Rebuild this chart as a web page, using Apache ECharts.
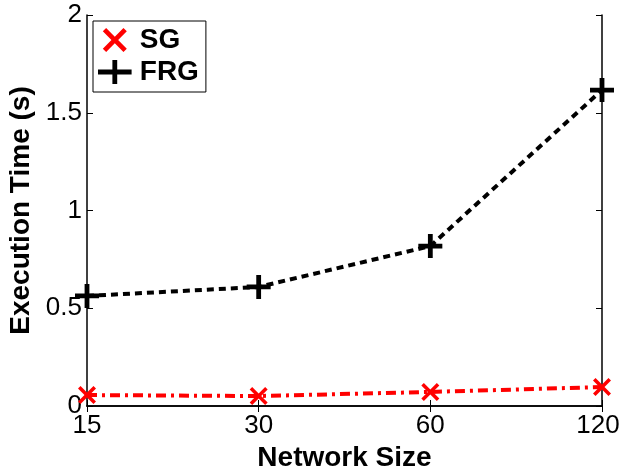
<!DOCTYPE html>
<html>
<head>
<meta charset="utf-8">
<title>Execution Time</title>
<script src="https://cdn.jsdelivr.net/npm/echarts@6/dist/echarts.min.js"></script>
<style>
  html, body { margin: 0; padding: 0; background: #fff; }
  #main { width: 621px; height: 473px; }
</style>
</head>
<body>
<div id="main"></div>
<script>
var sizes = ['15', '30', '60', '120'];
var sgTimes = [0.056, 0.051, 0.072, 0.097];
var frgTimes = [0.563, 0.609, 0.818, 1.616];
var yTicks = [0, 0.5, 1, 1.5, 2];

// marker shapes
var plusPath = 'path://M4,0L6,0L6,4L10,4L10,6L6,6L6,10L4,10L4,6L0,6L0,4L4,4Z';
var crossPath = 'path://M0,1.4L1.4,0L5,3.6L8.6,0L10,1.4L6.4,5L10,8.6L8.6,10L5,6.4L1.4,10L0,8.6L3.6,5Z';
// legend version of the plus, wider because the line runs through it
var plusWidePath = 'path://M6,0L8,0L8,4L14,4L14,6L8,6L8,10L6,10L6,6L0,6L0,4L6,4Z';
var font = 'Liberation Sans, Arial, Helvetica, sans-serif';

var chart = echarts.init(document.getElementById('main'));

var axisLine = { show: true, lineStyle: { color: '#000', width: 1.5 } };
var axisTick = { show: true, inside: true, length: 6, lineStyle: { color: '#000', width: 1 } };

chart.setOption({
  backgroundColor: '#fff',
  animation: false,
  textStyle: { fontFamily: font },
  grid: { left: 87, right: 19, top: 15, bottom: 67, containLabel: false, outerBoundsMode: 'none' },
  legend: {
    left: 93,
    top: 21,
    orient: 'vertical',
    backgroundColor: '#fff',
    borderColor: '#000',
    borderWidth: 1,
    borderRadius: 0,
    padding: [5, 7, 6, 5],
    itemGap: 4,
    itemWidth: 40,
    itemHeight: 24,
    textStyle: { fontFamily: font, fontSize: 28, fontWeight: 'bold', color: '#000' },
    data: [
      { name: 'SG', icon: crossPath, itemStyle: { color: '#ff0000' } },
      { name: 'FRG', icon: plusWidePath, itemStyle: { color: '#000' } }
    ]
  },
  xAxis: [{
    type: 'category',
    data: sizes,
    boundaryGap: false,
    name: 'Network Size',
    nameLocation: 'middle',
    nameGap: 32,
    nameTextStyle: { fontFamily: font, fontSize: 28, fontWeight: 'bold', color: '#000' },
    axisLine: axisLine,
    axisTick: axisTick,
    axisLabel: {
      fontFamily: font, fontSize: 26, color: '#000', margin: 7,
      // last label sits a little inside the right edge
      formatter: function (v, i) {
        return i === sizes.length - 1 ? '{last|' + v + '}' : v;
      },
      rich: {
        last: { fontFamily: font, fontSize: 26, color: '#000', padding: [0, 8, 0, 0] }
      }
    },
    splitLine: { show: false }
  }, {
    type: 'category',
    data: sizes,
    boundaryGap: false,
    position: 'top',
    axisLine: axisLine,
    axisTick: axisTick,
    axisLabel: { show: false },
    splitLine: { show: false }
  }],
  yAxis: [{
    type: 'value',
    min: yTicks[0],
    max: yTicks[yTicks.length - 1],
    interval: 0.5,
    name: 'Execution Time (s)',
    nameLocation: 'middle',
    nameGap: 51,
    nameTextStyle: { fontFamily: font, fontSize: 28, fontWeight: 'bold', color: '#000' },
    axisLine: axisLine,
    axisTick: axisTick,
    axisLabel: { fontFamily: font, fontSize: 26, color: '#000', margin: 5 },
    splitLine: { show: false }
  }, {
    type: 'value',
    min: yTicks[0],
    max: yTicks[yTicks.length - 1],
    interval: 0.5,
    position: 'right',
    axisLine: axisLine,
    axisTick: axisTick,
    axisLabel: { show: false },
    splitLine: { show: false }
  }],
  series: [{
    name: 'SG',
    type: 'line',
    data: sgTimes,
    symbol: crossPath,
    symbolSize: 18,
    z: 3,
    itemStyle: { color: '#ff0000' },
    lineStyle: { color: '#ff0000', width: 4, type: [10, 5, 3, 5] }
  }, {
    name: 'FRG',
    type: 'line',
    data: frgTimes,
    symbol: plusPath,
    symbolSize: 24,
    itemStyle: { color: '#000' },
    lineStyle: { color: '#000', width: 4, type: [7, 5] }
  }]
});
</script>
</body>
</html>
